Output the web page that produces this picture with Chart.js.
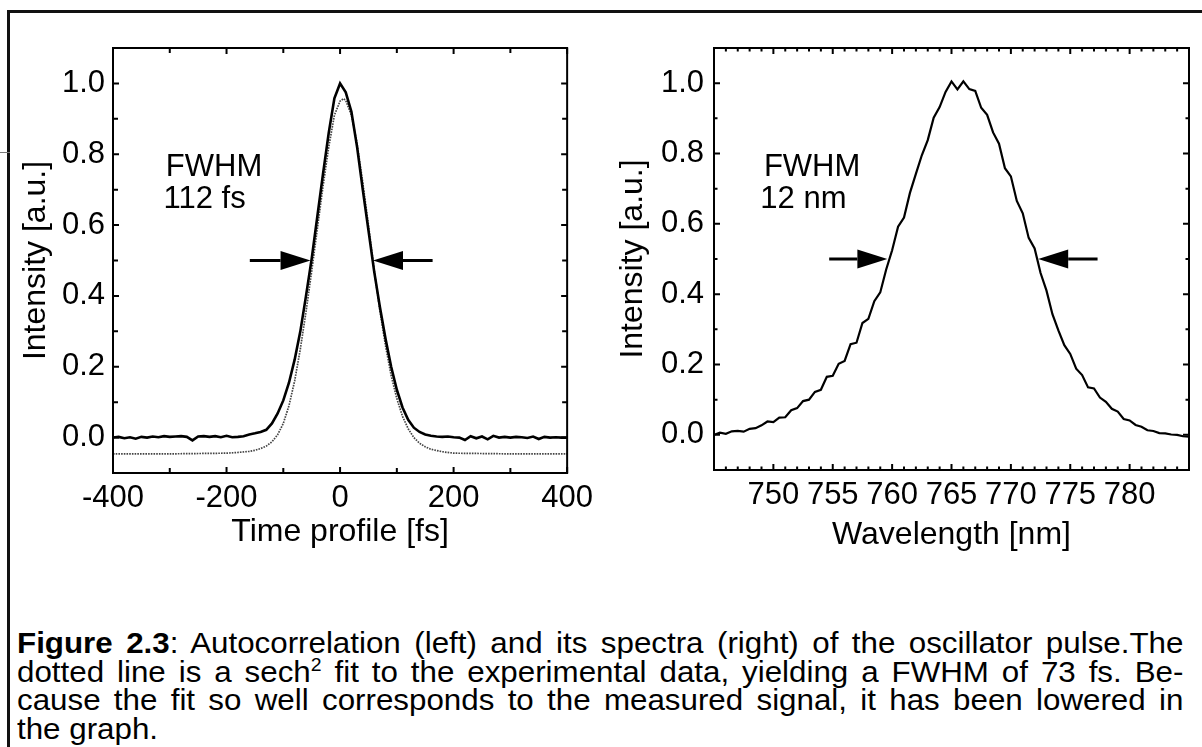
<!DOCTYPE html>
<html>
<head>
<meta charset="utf-8">
<title>Figure 2.3</title>
<script src="https://cdn.jsdelivr.net/npm/chart.js@4.4.0/dist/chart.umd.min.js"></script>
<style>
  html, body { margin: 0; padding: 0; background: #fff; }
  body { width: 1202px; height: 747px; position: relative; overflow: hidden;
         font-family: "Liberation Sans", Arial, Helvetica, sans-serif; color: #000; }
  #frame-top { position: absolute; left: 7px; top: 10px; width: 1195px; height: 3px; background: #111; }
  #frame-left { position: absolute; left: 7px; top: 10px; width: 3px; height: 737px; background: #111; }
  #scan-mark { position: absolute; left: 0; top: 152px; width: 10px; height: 1px; background: #777; }
  #left-box { position: absolute; left: 0; top: 0; width: 600px; height: 560px; }
  #right-box { position: absolute; left: 600px; top: 0; width: 602px; height: 560px; }
  #caption { position: absolute; left: 17px; top: 629px; width: 1080px; font-size: 29px; line-height: 28.5px;
             transform: scaleX(1.08); transform-origin: 0 0; }
  #caption .jl { text-align: justify; text-align-last: justify; white-space: nowrap; }
  #caption sup { font-size: 18px; line-height: 0; vertical-align: 11px; }
</style>
</head>
<body>
<div id="frame-top"></div>
<div id="frame-left"></div>
<div id="scan-mark"></div>
<div id="left-box"><canvas id="chart-autocorr" width="600" height="560"></canvas></div>
<div id="right-box"><canvas id="chart-spectrum" width="602" height="560"></canvas></div>
<div id="caption">
  <div class="jl"><b>Figure 2.3</b>: Autocorrelation (left) and its spectra (right) of the oscillator pulse.The</div>
  <div class="jl">dotted line is a sech<sup>2</sup> fit to the experimental data, yielding a FWHM of 73 fs. Be-</div>
  <div class="jl">cause the fit so well corresponds to the measured signal, it has been lowered in</div>
  <div>the graph.</div>
</div>
<script>
// --- Autocorrelation, measured (solid) ---
const acTime = [
  -400, -390, -380, -370, -360, -350, -340, -330, -320, -310, -300, -290, -280, -270,
  -260, -250, -240, -230, -220, -210, -200, -190, -180, -170, -160, -150, -140, -130,
  -120, -110, -100, -90, -80, -70, -60, -50, -40, -30, -20, -10, 0, 10, 20, 30, 40,
  50, 60, 70, 80, 90, 100, 110, 120, 130, 140, 150, 160, 170, 180, 190, 200, 210, 220,
  230, 240, 250, 260, 270, 280, 290, 300, 310, 320, 330, 340, 350, 360, 370, 380, 390, 400
];
const acSignal = [
  0.000, 0.002, -0.002, 0.001, -0.003, 0.002, 0.000, 0.003, 0.001, 0.004, 0.002, 0.003, 0.004, 0.002,
  -0.008, 0.003, 0.004, 0.002, 0.004, 0.001, 0.005, 0.001, 0.002, 0.004, 0.009, 0.012, 0.016, 0.022,
  0.040, 0.068, 0.105, 0.155, 0.220, 0.300, 0.400, 0.505, 0.625, 0.745, 0.860, 0.958, 1.000, 0.975, 0.920, 0.820, 0.700,
  0.585, 0.470, 0.370, 0.280, 0.200, 0.135, 0.085, 0.050, 0.028, 0.016, 0.009, 0.005, 0.003, 0.002, 0.003, 0.001, 0.000, -0.007,
  0.004, -0.002, 0.003, -0.005, 0.005, 0.000, 0.002, 0.000, 0.002, 0.001, -0.001, 0.003, -0.004, 0.002, 0.000, 0.001, 0.000, 0.000
];

// --- sech^2 fit, lowered (dotted) ---
const fitTime = [
  -400, -350, -300, -250, -200, -180, -160, -150, -140, -130, -120, -110, -100, -90, -80, -70,
  -60, -50, -40, -30, -20, -10, 0, 6, 10, 20, 30, 40, 50, 60, 70, 80, 90, 100, 110, 120, 130,
  140, 150, 160, 180, 200, 250, 300, 350, 400
];
const fitSignal = [
  -0.046, -0.046, -0.046, -0.045, -0.044, -0.042, -0.039, -0.036, -0.031, -0.024, -0.012, 0.008, 0.040, 0.090, 0.160, 0.250,
  0.355, 0.470, 0.590, 0.710, 0.820, 0.910, 0.950, 0.957, 0.952, 0.910, 0.830, 0.720, 0.600, 0.475, 0.360, 0.260, 0.175, 0.110, 0.060, 0.025, 0.000,
  -0.016, -0.026, -0.033, -0.040, -0.044, -0.045, -0.046, -0.046, -0.046
];

// --- Spectrum ---
const wavelength = [
  745.0, 745.5, 746.0, 746.5, 747.0, 747.5, 748.0, 748.5, 749.0, 749.5,
  750.0, 750.5, 751.0, 751.5, 752.0, 752.5, 753.0, 753.5, 754.0, 754.5,
  755.0, 755.5, 756.0, 756.5, 757.0, 757.5, 758.0, 758.5, 759.0, 759.5,
  760.0, 760.5, 761.0, 761.5, 762.0, 762.5, 763.0, 763.5, 764.0, 764.5,
  765.0, 765.5, 766.0, 766.5, 767.0, 767.5, 768.0, 768.5, 769.0, 769.5,
  770.0, 770.5, 771.0, 771.5, 772.0, 772.5, 773.0, 773.5, 774.0, 774.5,
  775.0, 775.5, 776.0, 776.5, 777.0, 777.5, 778.0, 778.5, 779.0, 779.5,
  780.0, 780.5, 781.0, 781.5, 782.0, 782.5, 783.0, 783.5, 784.0, 784.5, 785.0
];
const spectrum = [
  0.000, 0.006, 0.003, 0.010, 0.011, 0.009, 0.017, 0.019, 0.027, 0.038,
  0.036, 0.049, 0.050, 0.070, 0.076, 0.096, 0.100, 0.122, 0.128, 0.165,
  0.168, 0.202, 0.210, 0.258, 0.262, 0.318, 0.330, 0.380, 0.405, 0.470,
  0.525, 0.592, 0.618, 0.688, 0.742, 0.795, 0.838, 0.902, 0.932, 0.975,
  1.005, 0.982, 1.005, 0.983, 0.978, 0.930, 0.910, 0.860, 0.828, 0.758,
  0.735, 0.665, 0.630, 0.560, 0.530, 0.460, 0.410, 0.343, 0.297, 0.255,
  0.230, 0.188, 0.170, 0.135, 0.132, 0.106, 0.094, 0.074, 0.066, 0.045,
  0.041, 0.028, 0.023, 0.013, 0.011, 0.005, 0.004, 0.001, 0.000, -0.004, -0.005
];

// --- Tick labels ---
const timeTickLabels = [-400, -200, 0, 200, 400];
const wavelengthTickLabels = [750, 755, 760, 765, 770, 775, 780];
const intensityTickLabels = [0.0, 0.2, 0.4, 0.6, 0.8, 1.0];

// --- FWHM markers (arrow tail -> tip, at half maximum) ---
const acArrows = [[-159, -52], [163, 58]];
const specArrows = [[754.7, 759.6], [777.3, 772.3]];
const halfMax = 0.5;

const FONT = '"Liberation Sans", Arial, Helvetica, sans-serif';

const hasLabel = (list, v) => list.some((l) => Math.abs(l - v) < 1e-6);

/**
 * Box around the plot, inward ticks on all four sides, FWHM arrows and text.
 */
const frameTicks = {
  id: "frameTicks",
  afterDraw(chart) {
    const { ctx, chartArea: a, scales } = chart;
    const o = chart.options.plugins.frameTicks;
    ctx.save();
    ctx.strokeStyle = "#000";
    ctx.lineWidth = 2;
    ctx.beginPath();
    scales.x.ticks.forEach((t) => {
      const px = scales.x.getPixelForValue(t.value);
      const len = t.label ? o.major : o.minor;
      ctx.moveTo(px, a.bottom); ctx.lineTo(px, a.bottom - len);
      ctx.moveTo(px, a.top); ctx.lineTo(px, a.top + len);
    });
    scales.y.ticks.forEach((t) => {
      const py = scales.y.getPixelForValue(t.value);
      const len = t.label ? o.major : o.minor;
      ctx.moveTo(a.left, py); ctx.lineTo(a.left + len, py);
      ctx.moveTo(a.right, py); ctx.lineTo(a.right - len, py);
    });
    ctx.stroke();
    ctx.strokeRect(a.left, a.top, a.right - a.left, a.bottom - a.top);

    // arrows
    ctx.fillStyle = "#000";
    o.arrows.forEach(([from, to]) => {
      const x0 = scales.x.getPixelForValue(from);
      const x1 = scales.x.getPixelForValue(to);
      const y = scales.y.getPixelForValue(halfMax);
      const dir = Math.sign(x1 - x0);
      const head = 30;
      ctx.lineWidth = 3;
      ctx.beginPath();
      ctx.moveTo(x0, y);
      ctx.lineTo(x1 - dir * head, y);
      ctx.stroke();
      ctx.beginPath();
      ctx.moveTo(x1, y);
      ctx.lineTo(x1 - dir * head, y - 9.5);
      ctx.lineTo(x1 - dir * head, y + 9.5);
      ctx.closePath();
      ctx.fill();
    });

    // FWHM text
    ctx.font = "31px " + FONT;
    ctx.textAlign = "left";
    ctx.textBaseline = "middle";
    o.notes.forEach(([text, xv, yv]) => {
      ctx.fillText(text, scales.x.getPixelForValue(xv), scales.y.getPixelForValue(yv));
    });
    ctx.restore();
  },
};

function toPoints(xs, ys) {
  return xs.map((x, i) => ({ x: x, y: ys[i] }));
}

function intensityAxis(width, labelPad, titlePad) {
  return {
    min: -0.1,
    max: 1.1,
    grid: { display: false, drawTicks: false },
    border: { display: false },
    ticks: {
      stepSize: 0.1,
      autoSkip: false,
      padding: labelPad,
      color: "#000",
      font: { family: FONT, size: 31 },
      callback: (v) => (hasLabel(intensityTickLabels, v) ? v.toFixed(1) : ""),
    },
    title: {
      display: true,
      text: "Intensity [a.u.]",
      color: "#000",
      font: { family: FONT, size: 32 },
      padding: { top: titlePad, bottom: 0 },
    },
    afterFit: (s) => { s.width = width; },
  };
}

function bottomAxis(min, max, step, labels, title, height, titlePad) {
  return {
    type: "linear",
    min: min,
    max: max,
    grid: { display: false, drawTicks: false },
    border: { display: false },
    ticks: {
      stepSize: step,
      autoSkip: false,
      maxRotation: 0,
      padding: 7,
      color: "#000",
      font: { family: FONT, size: 31 },
      callback: (v) => (hasLabel(labels, v) ? String(v) : ""),
    },
    title: {
      display: true,
      text: title,
      color: "#000",
      font: { family: FONT, size: 32 },
      padding: { top: 0, bottom: titlePad },
    },
    afterFit: (s) => { s.height = height; },
  };
}

const baseOptions = {
  responsive: false,
  animation: false,
  devicePixelRatio: 1,
  events: [],
};

// Left: autocorrelation
new Chart(document.getElementById("chart-autocorr"), {
  type: "scatter",
  data: {
    datasets: [
      {
        data: toPoints(acTime, acSignal),
        showLine: true,
        borderColor: "#000",
        borderWidth: 2.6,
        pointRadius: 0,
      },
      {
        data: toPoints(fitTime, fitSignal),
        showLine: true,
        borderColor: "#444",
        borderWidth: 1.7,
        borderDash: [1.6, 1.1],
        pointRadius: 0,
      },
    ],
  },
  options: {
    ...baseOptions,
    layout: { padding: { top: 48, right: 32, bottom: 0, left: 0 }, autoPadding: false },
    plugins: {
      legend: { display: false },
      tooltip: { enabled: false },
      frameTicks: {
        major: 6,
        minor: 5,
        arrows: acArrows,
        notes: [["FWHM", -307, 0.763], ["112 fs", -311, 0.672]],
      },
    },
    scales: {
      x: bottomAxis(-400, 400, 100, timeTickLabels, "Time profile [fs]", 87, 9),
      y: intensityAxis(113, 8, 17),
    },
  },
  plugins: [frameTicks],
});

// Right: spectrum
new Chart(document.getElementById("chart-spectrum"), {
  type: "scatter",
  data: {
    datasets: [
      {
        data: toPoints(wavelength, spectrum),
        showLine: true,
        borderColor: "#000",
        borderWidth: 2.2,
        pointRadius: 0,
      },
    ],
  },
  options: {
    ...baseOptions,
    layout: { padding: { top: 48, right: 13, bottom: 0, left: 0 }, autoPadding: false },
    plugins: {
      legend: { display: false },
      tooltip: { enabled: false },
      frameTicks: {
        major: 6,
        minor: 3.5,
        arrows: specArrows,
        notes: [["FWHM", 749.2, 0.76], ["12 nm", 748.9, 0.67]],
      },
    },
    scales: {
      x: bottomAxis(745, 785, 1, wavelengthTickLabels, "Wavelength [nm]", 90, 6),
      y: intensityAxis(114, 10, 14),
    },
  },
  plugins: [frameTicks],
});
</script>
</body>
</html>
